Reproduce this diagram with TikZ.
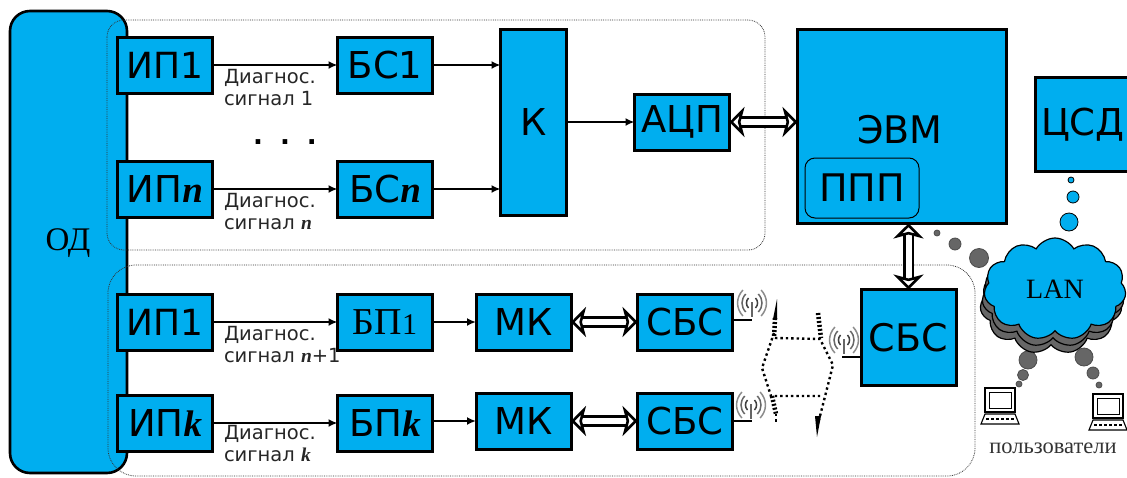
\documentclass[tikz,border=0pt]{standalone}
\usepackage{fontspec}
\setmainfont{Liberation Serif}
\setsansfont{DejaVu Sans}
\usepackage{xcolor}
\usetikzlibrary{arrows.meta, positioning, calc, shapes.symbols}
\definecolor{bxblue}{HTML}{00AEEF}
\definecolor{cldgray}{HTML}{666666}
\newcommand{\ital}[1]{{\rmfamily\bfseries\itshape #1}}

\begin{document}
\begin{tikzpicture}[
  x=1pt, y=-1pt,
  every node/.style={inner sep=0pt, outer sep=0pt},
  bx/.style ={draw=black, line width=3pt, fill=bxblue, font=\sffamily\fontsize{37}{37}\selectfont,
              minimum width=95pt, minimum height=56pt},
  bxs/.style={bx, font=\rmfamily\fontsize{38}{38}\selectfont},
  frm/.style={draw=black!80, densely dotted, line width=0.8pt, rounded corners=17pt},
  sig/.style={-{Latex[length=9pt,width=8pt]}, line width=2.3pt},
  dbl/.style={{Stealth[open,fill=white,inset=4pt,length=15pt,width=30pt]}-{Stealth[open,fill=white,inset=4pt,length=15pt,width=30pt]},
              line width=2.6pt, double=white, double distance=6pt},
  lab/.style={anchor=north west, align=left, font=\sffamily\fontsize{19.5}{22}\selectfont, text=black!85},
  bub/.style={circle, draw=black!70, fill=cldgray, line width=0.8pt},
  bubb/.style={circle, draw=black, fill=bxblue, line width=0.8pt},
  wav/.style={black, dash pattern=on 2.4pt off 3pt, line width=2.4pt},
  wvt/.style={black, dash pattern=on 2pt off 2pt, line width=4.5pt},
  cld/.style={cloud, cloud puffs=11, cloud puff arc=120, aspect=1.3, draw=black, line width=1.2pt,
              minimum width=142pt, minimum height=102pt},
  ant/.pic={
    \draw[black!60, line width=1.3pt] (0,-1) -- (0,14);
    \foreach \r/\g in {5/75,9/60,13/45}{
      \draw[black!\g, line width=1.5pt] (\r*0.7,-\r) .. controls (\r*1.25,-\r*0.4) and (\r*1.25,\r*0.4) .. (\r*0.7,\r);
      \draw[black!\g, line width=1.5pt] (-\r*0.7,-\r) .. controls (-\r*1.25,-\r*0.4) and (-\r*1.25,\r*0.4) .. (-\r*0.7,\r);
    }
  },
  lap/.pic={
    \draw[black, fill=white, line width=1.1pt] (3,0) rectangle (33,24);
    \draw[black, line width=0.9pt] (7,4) rectangle (29,20);
    \draw[black, fill=white, line width=1.1pt] (3,26) -- (33,26) -- (37,36) -- (-1,36) -- cycle;
    \draw[black, densely dashed, line width=1.6pt] (4,31) -- (32,31);
  }
]
\useasboundingbox (0,0) rectangle (1127,477);

%% object
\draw[draw=black, line width=2.6pt, fill=bxblue, rounded corners=20pt] (10,11) rectangle (127,473);
\node[font=\rmfamily\fontsize{33}{33}\selectfont] (od) at (68,243) {ОД};

%% frames
\draw[frm] (107,20) rectangle (765,250);
\draw[frm, rounded corners=28pt] (108,265) rectangle (975,476);

%% wired channels
\node[bx, font=\sffamily\fontsize{36}{36}\selectfont] (ipa) at (165,65)  {ИП1};
\node[bx] (ipn) at (165,189) {ИП\ital{n}};
\node[bx] (bsa) at (385,65)  {БС1};
\node[bx] (bsn) at (385,189) {БС\ital{n}};
\node[bx, minimum width=66pt, minimum height=186pt] (k) at (533.5,122.5) {К};
\node[bx] (adc) at (682,122) {АЦП};

%% computer
\node[bx, minimum width=209pt, minimum height=194pt] (evm) at (902,126.5) {};
\node[font=\sffamily\fontsize{38}{38}\selectfont] (evmt) at (900,130) {ЭВМ};
\node[draw=black, line width=1pt, rounded corners=10pt, minimum width=114pt, minimum height=60pt,
      font=\sffamily\fontsize{38}{38}\selectfont] (ppp) at (862,188) {ППП};
\node[bx, minimum width=95pt, minimum height=94pt] (csd) at (1083,124.5) {ЦСД};

%% wireless channels
\node[bx, font=\sffamily\fontsize{36}{36}\selectfont] (ipb) at (165,322) {ИП1};
\node[bx] (ipk) at (165,423) {ИП\ital{k}};
\node[bxs, text=black] (bpa) at (385,322) {БП{\fontsize{30}{30}\selectfont 1}};
\node[bx] (bpk) at (385,423) {БП\ital{k}};
\node[bx] (mka) at (523.5,322) {МК};
\node[bx] (mkk) at (523.5,421) {МК};
\node[bx] (sba) at (685,322) {СБС};
\node[bx] (sbk) at (685,421) {СБС};
\node[bx, font=\sffamily\fontsize{38}{38}\selectfont, minimum height=96pt] (sbc) at (908.5,337.5) {СБС};

%% signal labels
\node[lab] (la) at (224,69)  {Диагнос.\\сигнал 1};
\node[lab] (ln) at (224,193) {Диагнос.\\сигнал \ital{n}};
\node[lab] (lb) at (224,326) {Диагнос.\\сигнал \ital{n}+1};
\node[lab] (lk) at (224,425) {Диагнос.\\сигнал \ital{k}};
\node[font=\sffamily\bfseries\fontsize{26}{26}\selectfont] (dots) at (285,142) {.\hspace{17pt}.\hspace{17pt}.};

%% connections
\foreach \a/\b in {ipa/bsa,ipn/bsn,ipb/bpa,ipk/bpk}
  \draw[sig] (\a) -- (\b);
\draw[sig] (bsa) -- (bsa -| k.west);
\draw[sig] (bsn) -- (bsn -| k.west);
\draw[sig] (k.east |- adc) -- (adc);
\draw[sig] (bpa) -- (mka);
\draw[sig] (bpk.east |- mkk) -- (mkk);
\draw[dbl] (adc.east) -- (adc.east -| evm.west);
\draw[dbl] (mka) -- (sba);
\draw[dbl] (mkk) -- (sbk);
\draw[dbl] (sbc.north) -- (sbc.north |- evm.south);

%% antennas
\coordinate (anta) at (752,320);
\coordinate (antk) at (752,421);
\coordinate (antc) at (842,357);
\draw[line width=2pt] (sba.east |- anta) -- (anta);
\draw[line width=2pt] (sbk.east |- antk) -- (antk);
\draw[line width=2pt] (sbc.west |- antc) -- (antc);
\pic at (752,303) {ant};
\pic at (751,405) {ant};
\pic at (844,340) {ant};

%% radio link
\draw[wav] (774,333) -- (762,368) -- (771,396) -- (820,396);
\draw[wav] (775,338) -- (820,339) -- (833,365) -- (819,420);
\draw[wvt] (775,318) -- (774,338);
\draw[wvt] (772,396) -- (776,414);
\draw[wvt] (818,313) -- (821,338);
\fill (777,299) -- (773,319) -- (777,319) -- cycle;
\fill (817,437) -- (815,416) -- (821,416) -- cycle;
\draw[wav] (776,414) -- (776,424);

%% network
\foreach \x/\y/\r in {937/233/6,955/244/12,979/258/19,1028/360/18,1023/375/11,1019/384/6,1084/357/18,1093/373/12,1099/385/6}
  \node[bub, minimum size=\r pt] (g\x) at (\x,\y) {};
\foreach \x/\y/\r in {1071/180/6,1073/197/12,1069/222/18}
  \node[bubb, minimum size=\r pt] (c\x) at (\x,\y) {};
\node[cld, fill=cldgray] (cla) at (1051,303) {};
\node[cld, fill=cldgray] (clb) at (1053,296) {};
\node[cld, fill=bxblue, font=\rmfamily\fontsize{28}{28}\selectfont] (lan) at (1055,289) {LAN};

%% users
\pic at (982,388) {lap};
\pic at (1090,394) {lap};
\node[font=\rmfamily\fontsize{22.5}{22.5}\selectfont, text=black!80] (usr) at (1053,448) {пользователи};
\end{tikzpicture}
\end{document}
